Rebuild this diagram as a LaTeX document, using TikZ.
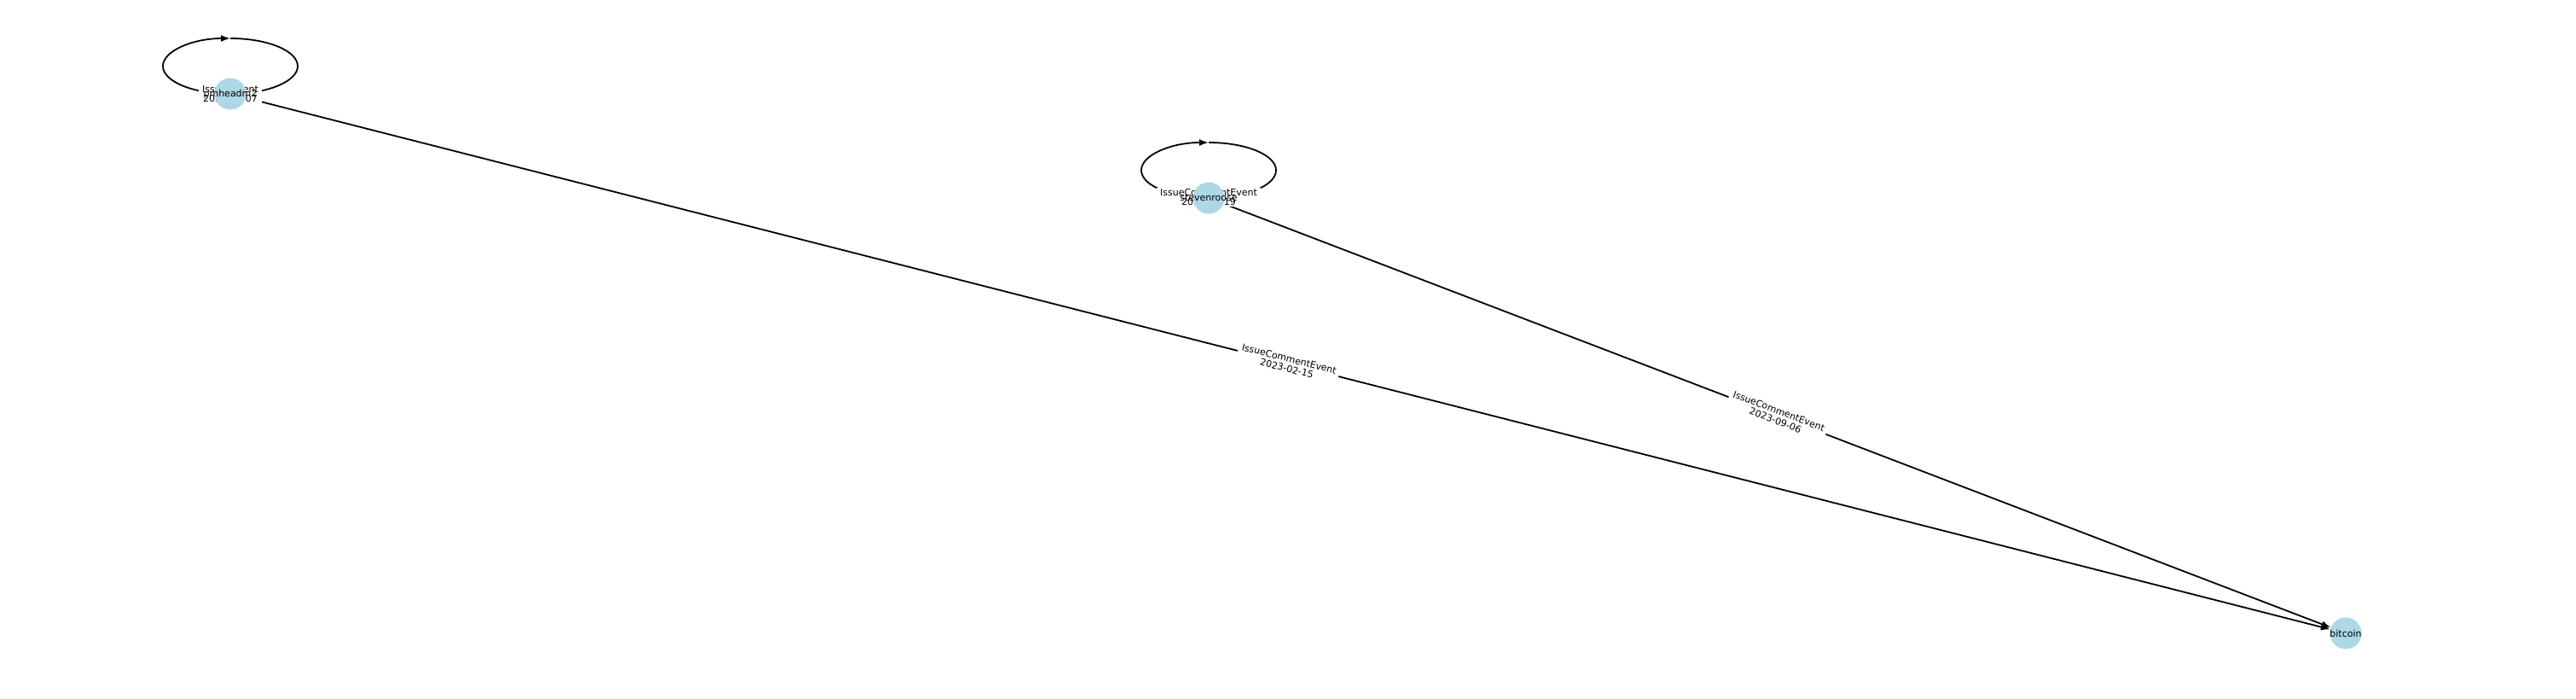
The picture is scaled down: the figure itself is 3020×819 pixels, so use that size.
\documentclass[tikz,border=0pt]{standalone}
\usepackage{fontspec}
\setmainfont{DejaVu Sans}
\usetikzlibrary{arrows.meta}
\definecolor{nodeblue}{HTML}{ADD8E6}
\pgfdeclarelayer{bg}
\pgfsetlayers{bg,main}
\tikzset{
  gnode/.style={circle, fill=nodeblue, minimum size=37pt, inner sep=0pt},
  ntext/.style={inner sep=0pt, font=\fontsize{11}{12}\selectfont},
  elabel/.style={fill=white, align=center, inner xsep=4pt, inner ysep=1pt, font=\fontsize{11}{11.5}\selectfont},
  eline/.style={line width=1.8pt},
  earrow/.style={line width=1.8pt, -{Latex[length=11pt,width=8pt]}}
}
\begin{document}
\begin{tikzpicture}[x=1pt,y=1pt]
\useasboundingbox (0,0) rectangle (3020,819);
\node[gnode] (n1) at (270,709) {};
\node[gnode] (n2) at (1417,587) {};
\node[gnode] (bc) at (2750,77) {};
\node[ntext] (n1t) at (n1) {pmheadm2};
\node[ntext] (n2t) at (n2) {stevenroose};
\node[ntext] (bct) at (bc) {bitcoin};
\begin{pgfonlayer}{bg}
  % self loops
  \draw[earrow] (n1.center) arc[start angle=270, end angle=90, x radius=79, y radius=32.5] coordinate (t1);
  \draw[eline] (t1) arc[start angle=90, end angle=-90, x radius=79, y radius=32.5];
  \draw[earrow] (n2.center) arc[start angle=270, end angle=90, x radius=79, y radius=32.5] coordinate (t2);
  \draw[eline] (t2) arc[start angle=90, end angle=-90, x radius=79, y radius=32.5];
  % edges
  \draw[earrow] (n1) -- node[elabel, sloped] (l1) {IssueCommentEvent\\2023-02-15} (bc);
  \draw[earrow] (n2) -- node[elabel, sloped] (l2) {IssueCommentEvent\\2023-09-06} (bc);
  % loop labels
  \node[elabel] (ll1) at (270,709) {IssuesEvent\\2023-03-07};
  \node[elabel] (ll2) at (1417,588) {IssueCommentEvent\\2023-09-19};
\end{pgfonlayer}
\end{tikzpicture}
\end{document}
